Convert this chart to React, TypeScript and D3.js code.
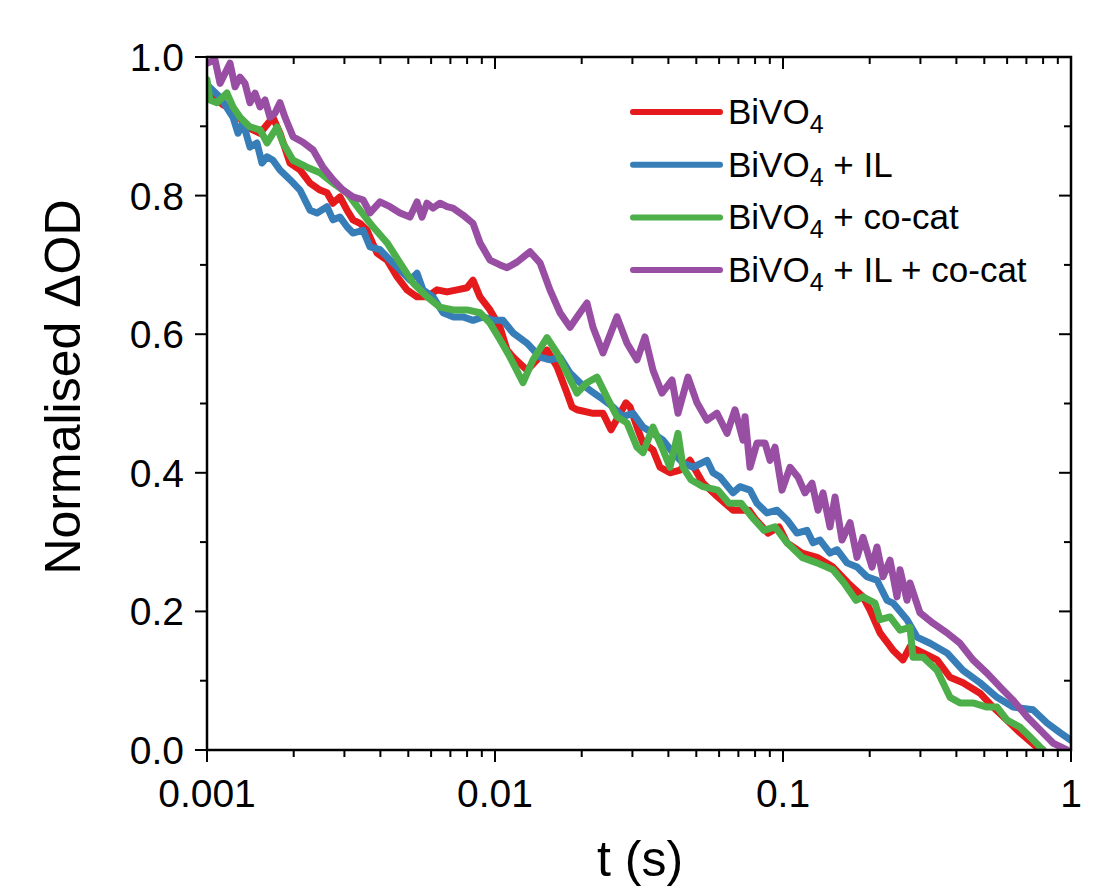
import * as d3 from "d3";

const width = 1104;
const height = 890;
const margin = { top: 57, right: 33, bottom: 140, left: 207 };

// legend / series
const seriesNames = ["BiVO4", "BiVO4 + IL", "BiVO4 + co-cat", "BiVO4 + IL + co-cat"];
const legendSuffix = ["", " + IL", " + co-cat", " + IL + co-cat"];
const seriesColors = ["#e41a1c", "#377eb8", "#4daf4a", "#984ea3"];

const xTickLabels = ["0.001", "0.01", "0.1", "1"];
const yTickLabels = ["0.0", "0.2", "0.4", "0.6", "0.8", "1.0"];

// [t (s), normalised dOD]
const bivo: [number, number][] = [
  [0.001, 0.952], [0.001137, 0.931], [0.001231, 0.924], [0.001377, 0.899], [0.001528, 0.89],
  [0.001695, 0.913], [0.001792, 0.89], [0.001942, 0.847], [0.002103, 0.837], [0.002279, 0.818],
  [0.002468, 0.808], [0.00261, 0.804], [0.002738, 0.789], [0.002896, 0.798], [0.003063, 0.779],
  [0.003213, 0.765], [0.003398, 0.76], [0.003594, 0.75], [0.003681, 0.74], [0.003894, 0.717],
  [0.004217, 0.707], [0.004567, 0.683], [0.004948, 0.664], [0.00536, 0.654], [0.005806, 0.654],
  [0.00629, 0.664], [0.006813, 0.661], [0.007381, 0.664], [0.007995, 0.667], [0.008387, 0.678],
  [0.008868, 0.654], [0.009607, 0.635], [0.01041, 0.61], [0.01101, 0.577], [0.01155, 0.567],
  [0.01292, 0.548], [0.01399, 0.563], [0.01516, 0.577], [0.01642, 0.553], [0.01778, 0.515],
  [0.01851, 0.495], [0.01926, 0.491], [0.02172, 0.486], [0.02371, 0.486], [0.02528, 0.462],
  [0.0285, 0.501], [0.02943, 0.495], [0.03137, 0.462], [0.03265, 0.443], [0.03537, 0.433],
  [0.03741, 0.408], [0.04052, 0.4], [0.04389, 0.404], [0.04753, 0.418], [0.05029, 0.4],
  [0.05275, 0.385], [0.05947, 0.365], [0.06705, 0.346], [0.0762, 0.346], [0.08058, 0.332],
  [0.08868, 0.313], [0.09685, 0.322], [0.1033, 0.299], [0.1164, 0.284], [0.1312, 0.278],
  [0.1491, 0.264], [0.1682, 0.241], [0.1896, 0.221], [0.2005, 0.202], [0.2172, 0.169],
  [0.241, 0.144], [0.261, 0.13], [0.2761, 0.149], [0.3063, 0.14], [0.3426, 0.13],
  [0.3801, 0.105], [0.4217, 0.097], [0.4831, 0.082], [0.536, 0.062], [0.5995, 0.043],
  [0.6651, 0.025], [0.762, 0.004], [0.7995, 0.0],
];

const bivoIL: [number, number][] = [
  [0.001, 0.96], [0.00111, 0.942], [0.001231, 0.913], [0.001281, 0.89], [0.001334, 0.905],
  [0.00141, 0.87], [0.001491, 0.876], [0.001552, 0.847], [0.001616, 0.856], [0.001695, 0.851],
  [0.001792, 0.837], [0.001942, 0.823], [0.002103, 0.808], [0.002279, 0.779], [0.00241, 0.775],
  [0.00261, 0.784], [0.002738, 0.765], [0.002896, 0.769], [0.003063, 0.755], [0.003213, 0.746],
  [0.003481, 0.75], [0.003681, 0.726], [0.003987, 0.722], [0.004319, 0.707], [0.004678, 0.693],
  [0.005069, 0.678], [0.00536, 0.688], [0.005623, 0.664], [0.006091, 0.654], [0.006598, 0.631],
  [0.007147, 0.625], [0.007743, 0.625], [0.008387, 0.62], [0.009085, 0.625], [0.009842, 0.62],
  [0.01066, 0.62], [0.01155, 0.602], [0.01292, 0.587], [0.01433, 0.567], [0.01552, 0.563],
  [0.01682, 0.567], [0.01822, 0.544], [0.01973, 0.53], [0.02138, 0.519], [0.02316, 0.509],
  [0.02569, 0.495], [0.02783, 0.481], [0.03015, 0.486], [0.03265, 0.466], [0.03537, 0.457],
  [0.03831, 0.447], [0.0415, 0.429], [0.04496, 0.414], [0.0487, 0.408], [0.05446, 0.418],
  [0.05714, 0.4], [0.06043, 0.394], [0.06705, 0.371], [0.0709, 0.38], [0.07682, 0.375],
  [0.08122, 0.356], [0.08799, 0.342], [0.09532, 0.346], [0.1033, 0.332], [0.1118, 0.313],
  [0.1211, 0.317], [0.1271, 0.299], [0.1344, 0.303], [0.1456, 0.284], [0.154, 0.289],
  [0.1668, 0.27], [0.1807, 0.264], [0.1957, 0.25], [0.212, 0.245], [0.2297, 0.216],
  [0.241, 0.212], [0.2696, 0.188], [0.2919, 0.163], [0.3239, 0.154], [0.3711, 0.14],
  [0.4217, 0.115], [0.4831, 0.097], [0.5536, 0.076], [0.629, 0.062], [0.7381, 0.058],
  [0.8255, 0.039], [0.9157, 0.025], [1.0, 0.014],
];

const bivoCocat: [number, number][] = [
  [0.001, 0.967], [0.001024, 0.938], [0.001083, 0.934], [0.001173, 0.948], [0.001231, 0.928],
  [0.001302, 0.913], [0.00141, 0.899], [0.001528, 0.895], [0.001616, 0.876], [0.00175, 0.899],
  [0.001836, 0.876], [0.001989, 0.851], [0.002225, 0.841], [0.002468, 0.833], [0.002738, 0.818],
  [0.003063, 0.804], [0.003398, 0.779], [0.00377, 0.755], [0.004217, 0.732], [0.004678, 0.703],
  [0.005192, 0.674], [0.005806, 0.654], [0.006442, 0.639], [0.007147, 0.635], [0.007995, 0.635],
  [0.008868, 0.631], [0.009607, 0.616], [0.01041, 0.592], [0.01127, 0.567], [0.01251, 0.53],
  [0.01355, 0.563], [0.01516, 0.595], [0.01642, 0.573], [0.01778, 0.544], [0.01926, 0.515],
  [0.02086, 0.53], [0.02261, 0.538], [0.02448, 0.509], [0.02652, 0.481], [0.02873, 0.472],
  [0.03112, 0.437], [0.03265, 0.429], [0.03537, 0.466], [0.03831, 0.433], [0.04052, 0.408],
  [0.04319, 0.457], [0.04496, 0.408], [0.04791, 0.39], [0.05275, 0.38], [0.05947, 0.375],
  [0.06494, 0.356], [0.07147, 0.356], [0.07806, 0.336], [0.0859, 0.317], [0.0938, 0.322],
  [0.1033, 0.299], [0.1164, 0.278], [0.1312, 0.27], [0.1491, 0.26], [0.1629, 0.241],
  [0.1792, 0.216], [0.1896, 0.221], [0.2086, 0.212], [0.2172, 0.188], [0.2353, 0.192],
  [0.2549, 0.173], [0.2761, 0.177], [0.2827, 0.134], [0.3063, 0.134], [0.3426, 0.115],
  [0.3801, 0.076], [0.4117, 0.068], [0.4567, 0.068], [0.5109, 0.062], [0.5536, 0.062],
  [0.5995, 0.043], [0.6651, 0.033], [0.7204, 0.019], [0.7995, 0.0],
];

const bivoILCocat: [number, number][] = [
  [0.001, 0.991], [0.001066, 0.996], [0.00111, 0.962], [0.001202, 0.991], [0.001251, 0.957],
  [0.001302, 0.971], [0.001355, 0.962], [0.00141, 0.934], [0.001468, 0.948], [0.001528, 0.928],
  [0.00159, 0.938], [0.001655, 0.913], [0.001722, 0.919], [0.001792, 0.934], [0.001866, 0.913],
  [0.001989, 0.885], [0.002154, 0.877], [0.002334, 0.866], [0.002528, 0.841], [0.002738, 0.823],
  [0.002966, 0.808], [0.003213, 0.798], [0.003481, 0.794], [0.003681, 0.775], [0.003987, 0.791],
  [0.004319, 0.784], [0.004678, 0.775], [0.005069, 0.769], [0.00536, 0.791], [0.005579, 0.769],
  [0.005806, 0.789], [0.006091, 0.782], [0.006442, 0.789], [0.006813, 0.784], [0.007147, 0.782],
  [0.007743, 0.772], [0.008387, 0.76], [0.008868, 0.732], [0.009607, 0.707], [0.01041, 0.7],
  [0.01101, 0.696], [0.01192, 0.704], [0.01323, 0.719], [0.01433, 0.703], [0.01552, 0.664],
  [0.01682, 0.631], [0.01822, 0.61], [0.01973, 0.631], [0.02086, 0.645], [0.02189, 0.61],
  [0.02371, 0.573], [0.02652, 0.625], [0.02873, 0.587], [0.03112, 0.563], [0.03317, 0.596],
  [0.03537, 0.548], [0.03801, 0.515], [0.04117, 0.534], [0.04319, 0.486], [0.04678, 0.538],
  [0.05029, 0.501], [0.05446, 0.476], [0.059, 0.486], [0.06392, 0.457], [0.06813, 0.491],
  [0.07262, 0.447], [0.07381, 0.481], [0.07682, 0.408], [0.08122, 0.443], [0.0866, 0.443],
  [0.09015, 0.418], [0.0938, 0.437], [0.0992, 0.375], [0.1058, 0.408], [0.1127, 0.394],
  [0.1192, 0.371], [0.1261, 0.385], [0.1323, 0.346], [0.1377, 0.371], [0.1456, 0.322],
  [0.1516, 0.365], [0.1603, 0.303], [0.1709, 0.328], [0.1807, 0.278], [0.1896, 0.307],
  [0.2037, 0.264], [0.212, 0.293], [0.2225, 0.25], [0.2353, 0.274], [0.2488, 0.221],
  [0.2549, 0.26], [0.2696, 0.216], [0.2761, 0.241], [0.299, 0.198], [0.3317, 0.183],
  [0.3711, 0.169], [0.4117, 0.154], [0.4567, 0.13], [0.5109, 0.111], [0.5669, 0.091],
  [0.629, 0.072], [0.7034, 0.048], [0.7806, 0.029], [0.866, 0.01], [0.9685, 0.0],
];

const seriesData = [bivo, bivoIL, bivoCocat, bivoILCocat];

const font = "'Liberation Sans', Arial, sans-serif";

export default function App() {
  const x = d3
    .scaleLog()
    .domain([0.001, 1])
    .range([margin.left, width - margin.right]);
  const y = d3
    .scaleLinear()
    .domain([0, 1])
    .range([height - margin.bottom, margin.top]);

  const x0 = margin.left;
  const x1 = width - margin.right;
  const y0 = height - margin.bottom;
  const y1 = margin.top;

  const line = d3
    .line<[number, number]>()
    .x((d) => x(d[0]))
    .y((d) => y(d[1]));

  const xTicks = x.ticks();
  const isMajor = (t: number) => Math.abs(Math.log10(t) - Math.round(Math.log10(t))) < 1e-6;
  const yTicks = d3.range(0, 1.0001, 0.1);

  return (
    <svg
      width={width}
      height={height}
      style={{ position: "absolute", left: 0, top: 0, background: "white", fontFamily: font }}
    >
      <defs>
        <clipPath id="plot">
          <rect x={x0} y={y1} width={x1 - x0} height={y0 - y1} />
        </clipPath>
      </defs>

      {/* data lines */}
      <g clipPath="url(#plot)">
        {seriesData.map((d, i) => (
          <path
            key={seriesNames[i]}
            d={line(d) ?? ""}
            fill="none"
            stroke={seriesColors[i]}
            strokeWidth={7}
            strokeLinejoin="round"
            strokeLinecap="round"
          />
        ))}
      </g>

      {/* frame */}
      <rect x={x0} y={y1} width={x1 - x0} height={y0 - y1} fill="none" stroke="#000" strokeWidth={2.5} />

      {/* x ticks: bottom outward, top inward */}
      {xTicks.map((t, i) => {
        const len = isMajor(t) ? 12 : 7;
        return (
          <g key={"xt" + i} stroke="#000" strokeWidth={2}>
            <line x1={x(t)} x2={x(t)} y1={y0} y2={y0 + len} />
            <line x1={x(t)} x2={x(t)} y1={y1} y2={y1 + len} />
          </g>
        );
      })}
      {xTickLabels.map((lab) => (
        <text key={lab} x={x(+lab)} y={y0 + 57} textAnchor="middle" fontSize={39} fill="#000">
          {lab}
        </text>
      ))}

      {/* y ticks: left outward, right inward */}
      {yTicks.map((v, i) => {
        const len = i % 2 === 0 ? 12 : 7;
        return (
          <g key={"yt" + i} stroke="#000" strokeWidth={2}>
            <line x1={x0 - len} x2={x0} y1={y(v)} y2={y(v)} />
            <line x1={x1 - len} x2={x1} y1={y(v)} y2={y(v)} />
          </g>
        );
      })}
      {yTickLabels.map((lab) => (
        <text key={lab} x={x0 - 23} y={y(+lab) + 14} textAnchor="end" fontSize={39} fill="#000">
          {lab}
        </text>
      ))}

      {/* axis titles */}
      <text x={640} y={876} textAnchor="middle" fontSize={50} fill="#000">
        t (s)
      </text>
      <text
        transform="translate(80, 387) rotate(-90)"
        textAnchor="middle"
        fontSize={50}
        fill="#000"
      >
        Normalised ΔOD
      </text>

      {/* legend */}
      <g transform="translate(633, 112)">
        {seriesNames.map((name, i) => (
          <g key={name} transform={`translate(0, ${i * 52.7})`}>
            <line x1={0} x2={87} y1={0} y2={0} stroke={seriesColors[i]} strokeWidth={6} strokeLinecap="round" />
            <text x={95} y={12} fontSize={35} fill="#000" style={{ whiteSpace: "pre" }}>
              BiVO
              <tspan fontSize={25} dy={9}>4</tspan>
              <tspan dy={-9}>{legendSuffix[i]}</tspan>
            </text>
          </g>
        ))}
      </g>
    </svg>
  );
}
